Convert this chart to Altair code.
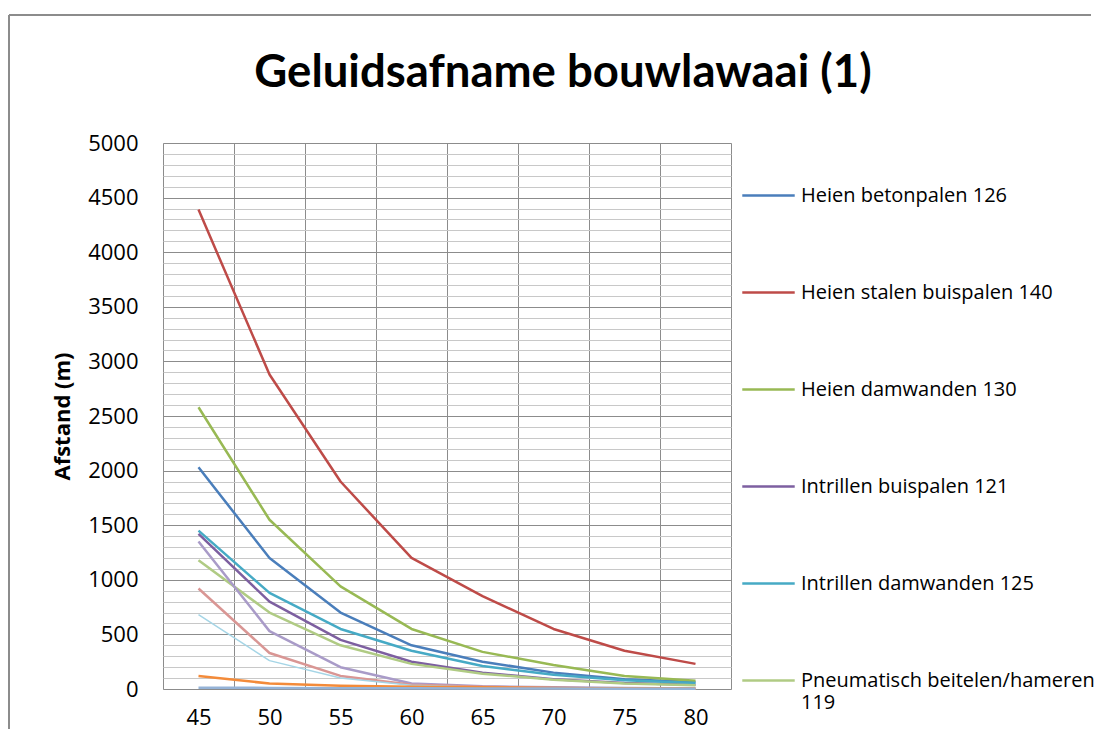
import altair as alt
import pandas as pd

# ---- data ----
categories = [45, 50, 55, 60, 65, 70, 75, 80]

series_names = [
    "Heien betonpalen 126",
    "Heien stalen buispalen 140",
    "Heien damwanden 130",
    "Intrillen buispalen 121",
    "Intrillen damwanden 125",
    "Pneumatisch beitelen/hameren 119",
    "Reeks 7",
    "Reeks 8",
    "Reeks 9",
    "Reeks 10",
    "Reeks 11",
]

heien_betonpalen = [2030, 1200, 700, 400, 250, 150, 90, 65]
heien_stalen = [4390, 2880, 1900, 1200, 850, 550, 350, 230]
heien_damwanden = [2580, 1550, 940, 550, 340, 220, 120, 75]
intrillen_buispalen = [1420, 800, 450, 250, 150, 90, 55, 40]
intrillen_damwanden = [1450, 880, 550, 350, 210, 130, 80, 55]
pneumatisch = [1180, 700, 400, 230, 140, 85, 50, 35]
reeks7 = [1350, 530, 200, 50, 25, 15, 10, 5]
reeks8 = [920, 330, 120, 40, 20, 10, 5, 3]
reeks9 = [680, 260, 100, 35, 15, 8, 5, 3]
reeks10 = [120, 50, 30, 20, 15, 10, 5, 3]
reeks11 = [12, 10, 8, 6, 5, 4, 3, 2]

all_values = [heien_betonpalen, heien_stalen, heien_damwanden, intrillen_buispalen,
              intrillen_damwanden, pneumatisch, reeks7, reeks8, reeks9, reeks10, reeks11]

legend_names = series_names[:6]

y_ticks = list(range(0, 5001, 100))

# ---- styles ----
colors = ["#4A7EBB", "#BE4B48", "#98B954", "#7D5FA0", "#46AAC5", "#B0CB84",
          "#A99BC8", "#D99694", "#A5D5E6", "#F38B3A", "#95B3D7"]
thin_series = ["Reeks 9"]

rows = []
for name, vals in zip(series_names, all_values):
    for c, v in zip(categories, vals):
        rows.append({"series": name, "dB": c, "afstand": v})
df = pd.DataFrame(rows)

half = (categories[1] - categories[0]) / 2
x_bounds = [c - half for c in categories] + [categories[-1] + half]
x_axis_values = sorted(x_bounds + categories)

FONT = "Open Sans"
TITLE_FONT = "Lato"
GRID_MAJOR = "#8C8C8C"
GRID_MINOR = "#C8C8C8"

x_enc = alt.X(
    "dB:Q",
    scale=alt.Scale(domain=[x_bounds[0], x_bounds[-1]], nice=False, zero=False),
    axis=alt.Axis(
        values=x_axis_values, format="d", title=None,
        labelExpr="datum.value % 5 === 0 ? datum.label : ''",
        gridOpacity={"condition": {"test": "datum.value % 5 === 0", "value": 0}, "value": 1},
        gridColor=GRID_MAJOR, ticks=False, domain=False,
        labelOverlap=False, labelFlush=False, labelBound=False,
        labelFont=FONT, labelFontSize=22, labelColor="#000000", labelPadding=18,
    ),
)

y_enc = alt.Y(
    "afstand:Q",
    scale=alt.Scale(domain=[0, 5000], nice=False),
    axis=alt.Axis(
        values=y_ticks, format="d", title="Afstand (m)",
        labelExpr="datum.value % 500 === 0 ? datum.label : ''",
        gridColor={"condition": {"test": "datum.value % 500 === 0", "value": GRID_MAJOR}, "value": GRID_MINOR},
        ticks=False, domain=False, labelOverlap=False, labelBound=False,
        labelFont=FONT, labelFontSize=22, labelColor="#000000", labelPadding=25,
        titleFont=FONT, titleFontSize=22, titleFontWeight="bold", titleColor="#000000",
        titlePadding=13,
    ),
)

lines = alt.Chart(df).mark_line(strokeJoin="round").encode(
    x=x_enc,
    y=y_enc,
    color=alt.Color(
        "series:N",
        scale=alt.Scale(domain=series_names, range=colors),
        legend=alt.Legend(
            values=legend_names, title=None, orient="none",
            legendX=578, legendY=25, rowPadding=59,
            symbolType="stroke", symbolSize=2750, symbolStrokeWidth=2.5,
            labelFont=FONT, labelFontSize=20, labelColor="#000000",
            labelLimit=600, labelOffset=5,
            labelExpr="datum.label == 'Pneumatisch beitelen/hameren 119' ? ['Pneumatisch beitelen/hameren', '119'] : datum.label",
        ),
    ),
    strokeWidth=alt.condition(
        alt.FieldOneOfPredicate(field="series", oneOf=thin_series),
        alt.value(1.5), alt.value(2.5)),
    order=alt.Order("dB:Q"),
)

one = alt.Data(values=[{"f": 1}])
frame_top = alt.Chart(one).mark_rule(color="#8C8C8C", strokeWidth=2).encode(
    x=alt.value(-154), x2=alt.value(928), y=alt.value(-128)
)
frame_left = alt.Chart(one).mark_rule(color="#8C8C8C", strokeWidth=2).encode(
    x=alt.value(-154), y=alt.value(-128), y2=alt.value(590)
)

chart = alt.layer(frame_top, frame_left, lines).properties(
    width=568, height=546,
    title=alt.TitleParams(
        "Geluidsafname bouwlawaai (1)", font=TITLE_FONT, fontSize=45.5, fontWeight="bold",
        color="#000000", dx=116, offset=-82, anchor="middle",
    ),
    autosize=alt.AutoSizeParams(type="none"),
    padding={"left": 155, "top": 135, "right": 367, "bottom": 40},
).configure_view(
    stroke=GRID_MAJOR, strokeWidth=1
).configure(background="white")

chart.save("out.html", embed_options={"renderer": "svg", "actions": False})
